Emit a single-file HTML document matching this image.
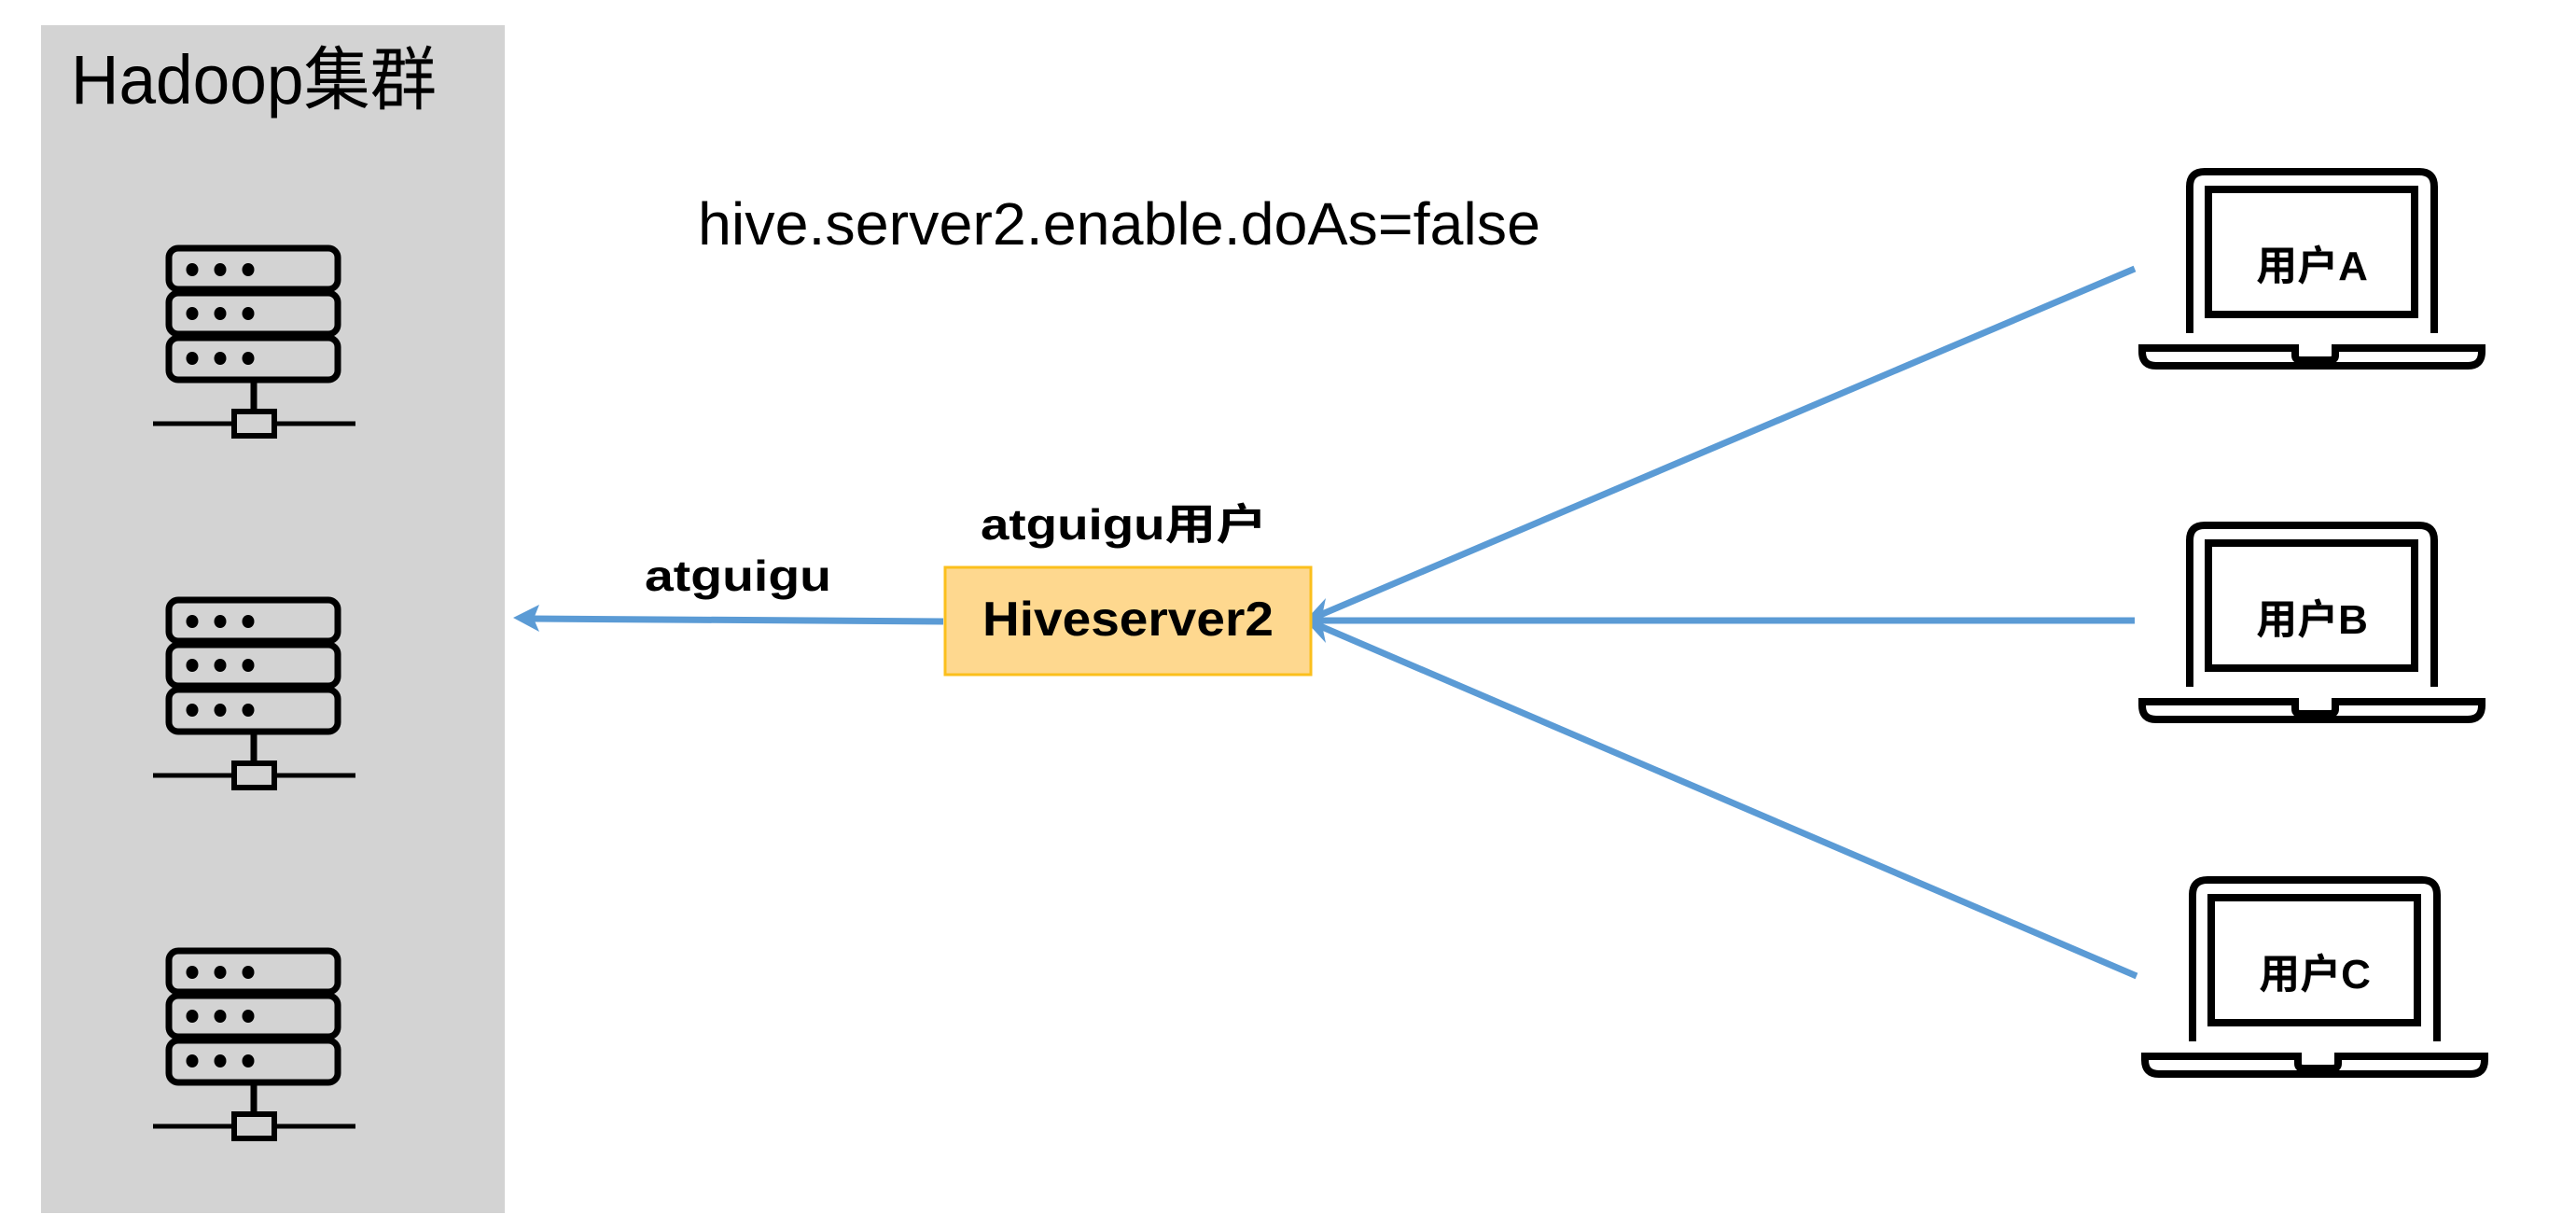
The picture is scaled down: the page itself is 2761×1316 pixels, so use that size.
<!DOCTYPE html>
<html><head><meta charset="utf-8"><style>html,body{margin:0;padding:0;background:#fff;width:2761px;height:1316px;overflow:hidden}</style></head>
<body>
<svg width="2761" height="1316" viewBox="0 0 2761 1316" xmlns="http://www.w3.org/2000/svg">
<defs>
<g id="srv" fill="none" stroke="#000" stroke-width="7">
<rect x="181" y="266" width="181" height="44" rx="10"/>
<rect x="181" y="314" width="181" height="44" rx="10"/>
<rect x="181" y="362" width="181" height="45" rx="10"/>
<line x1="272" y1="407" x2="272" y2="440" />
<rect x="251" y="441" width="43" height="26" stroke-width="6"/>
<line x1="164" y1="454" x2="251" y2="454" stroke-width="5"/>
<line x1="294" y1="454" x2="381" y2="454" stroke-width="5"/>
<g fill="#000" stroke="none">
<ellipse cx="206" cy="289" rx="6.5" ry="7"/><ellipse cx="236" cy="289" rx="6.5" ry="7"/><ellipse cx="266" cy="289" rx="6.5" ry="7"/>
<ellipse cx="206" cy="336" rx="6.5" ry="7"/><ellipse cx="236" cy="336" rx="6.5" ry="7"/><ellipse cx="266" cy="336" rx="6.5" ry="7"/>
<ellipse cx="206" cy="384" rx="6.5" ry="7"/><ellipse cx="236" cy="384" rx="6.5" ry="7"/><ellipse cx="266" cy="384" rx="6.5" ry="7"/>
</g>
</g>
<g id="lap" fill="none" stroke="#000" stroke-width="8">
<path d="M2347 357 V200 Q2347 184 2363 184 H2593 Q2609 184 2609 200 V357"/>
<rect x="2367" y="203" width="221" height="134"/>
<path d="M2296 373 H2460 V381 Q2460 386 2466 386 H2497 Q2503 386 2503 381 V373 H2660 V377 Q2660 392 2645 392 H2311 Q2296 392 2296 377 Z"/>
</g>
</defs>
<rect x="44" y="27" width="497" height="1273" fill="#d3d3d3"/>
<text x="76" y="111" font-family="Liberation Sans, Noto Sans CJK SC, sans-serif" font-size="74" fill="#000" textLength="392" lengthAdjust="spacingAndGlyphs">Hadoop集群</text>
<use href="#srv"/>
<use href="#srv" transform="translate(0,377)"/>
<use href="#srv" transform="translate(0,753)"/>

<text x="748" y="262" font-family="Liberation Sans, sans-serif" font-size="64" fill="#000" textLength="903" lengthAdjust="spacingAndGlyphs">hive.server2.enable.doAs=false</text>

<g stroke="#5b9bd5" stroke-width="7" fill="none">
<line x1="1011" y1="666" x2="570" y2="663"/>
<line x1="2288" y1="288" x2="1415" y2="659"/>
<line x1="2288" y1="665" x2="1415" y2="665"/>
<line x1="2290" y1="1046" x2="1415" y2="671"/>
</g>
<polygon points="550,662 578,648 572,663 578,677" fill="#5b9bd5"/>
<polygon points="1399,665 1421,641 1416,665 1421,689" fill="#5b9bd5"/>

<rect x="1013" y="608" width="392" height="115" fill="#fed88f" stroke="#fbbf1c" stroke-width="3"/>
<text x="1209" y="681" text-anchor="middle" font-family="Liberation Sans, sans-serif" font-weight="bold" font-size="52" fill="#000" textLength="312" lengthAdjust="spacingAndGlyphs">Hiveserver2</text>
<text x="1051" y="578" font-family="Liberation Sans, Noto Sans CJK SC, sans-serif" font-weight="bold" font-size="46" fill="#000" textLength="307" lengthAdjust="spacingAndGlyphs">atguigu用户</text>
<text x="691" y="633" font-family="Liberation Sans, sans-serif" font-weight="bold" font-size="46" fill="#000" textLength="200" lengthAdjust="spacingAndGlyphs">atguigu</text>

<use href="#lap"/>
<use href="#lap" transform="translate(0,379)"/>
<use href="#lap" transform="translate(3,759)"/>
<g font-family="Liberation Sans, Noto Sans CJK SC, sans-serif" font-weight="bold" font-size="44" fill="#000" text-anchor="middle">
<text x="2478" y="300">用户A</text>
<text x="2478" y="679">用户B</text>
<text x="2481" y="1059">用户C</text>
</g>
</svg>
</body></html>
